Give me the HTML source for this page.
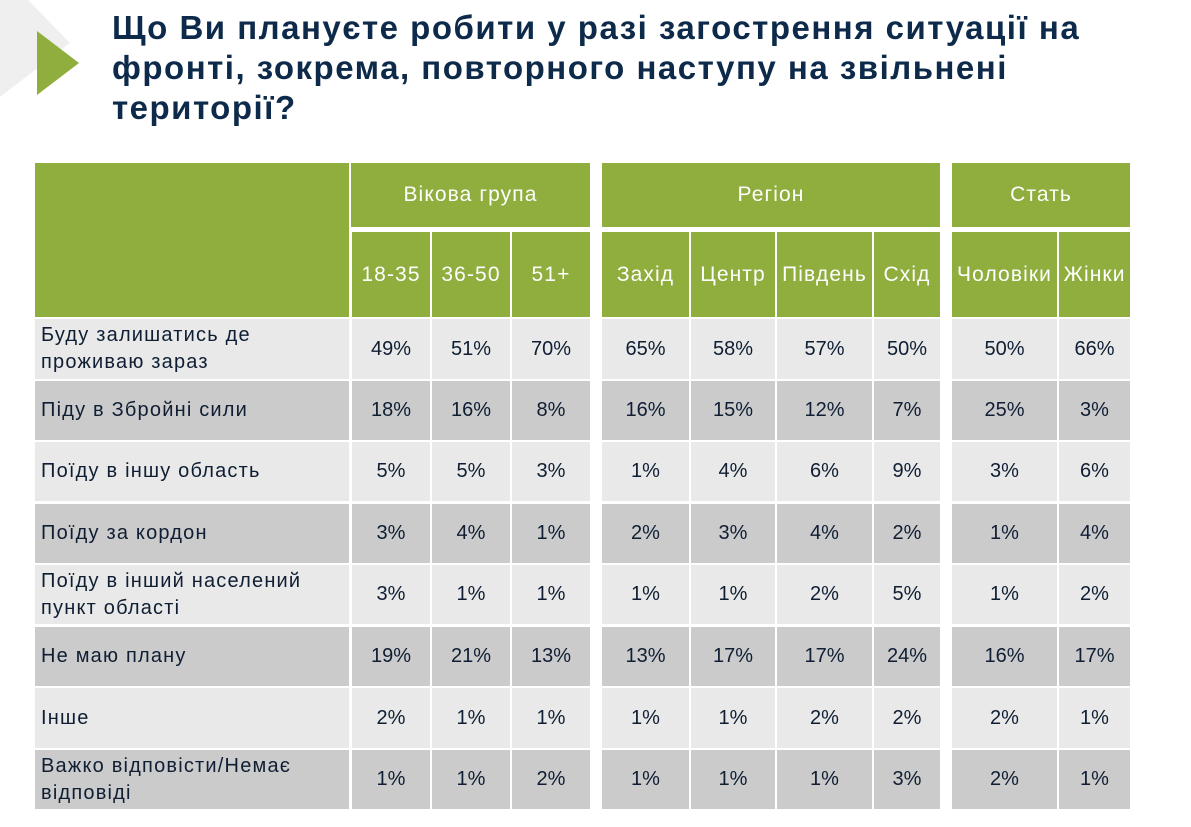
<!DOCTYPE html>
<html><head><meta charset="utf-8">
<style>
body{margin:0;width:1191px;height:827px;background:#fff;position:relative;overflow:hidden;font-family:"Liberation Sans","DejaVu Sans",sans-serif;}
.c{position:absolute;box-sizing:border-box;display:flex;align-items:center;justify-content:center;}
.g{background:#8fae3e;color:#fff;font-size:21px;letter-spacing:1.1px;}
.v{font-size:20px;color:#0f1e33;}
.lbl{justify-content:flex-start;padding-left:6px;font-size:20px;color:#0f1e33;line-height:27px;letter-spacing:1.2px}
#title{position:absolute;left:112px;top:8px;font-size:33px;font-weight:bold;color:#0d2a4a;line-height:40px;letter-spacing:1.5px}
</style></head><body>
<svg width="120" height="120" style="position:absolute;left:0;top:0">
<polygon points="0,0 28,0 70,43 0,97" fill="#efefef"/>
<polygon points="37,31 79,63 37,95" fill="#8fae3e"/>
</svg>
<div id="title">Що Ви плануєте робити у разі загострення ситуації на<br>фронті, зокрема, повторного наступу на звільнені<br>території?</div>
<div id="tbl"></div>
<script>
const groups=["Вікова група","Регіон","Стать"];
const columns=["18-35","36-50","51+","Захід","Центр","Південь","Схід","Чоловіки","Жінки"];
const rowLabels=["Буду залишатись де<br>проживаю зараз","Піду в Збройні сили","Поїду в іншу область","Поїду за кордон","Поїду в інший населений<br>пункт області","Не маю плану","Інше","Важко відповісти/Немає<br>відповіді"];
const r1=[49,51,70,65,58,57,50,50,66];
const r2=[18,16,8,16,15,12,7,25,3];
const r3=[5,5,3,1,4,6,9,3,6];
const r4=[3,4,1,2,3,4,2,1,4];
const r5=[3,1,1,1,1,2,5,1,2];
const r6=[19,21,13,13,17,17,24,16,17];
const r7=[2,1,1,1,1,2,2,2,1];
const r8=[1,1,2,1,1,1,3,2,1];
const values=[r1,r2,r3,r4,r5,r6,r7,r8];
const colX=[[352,430],[432,510],[512,590],[602,689],[691,775],[777,872],[874,940],[952,1057],[1059,1130]];
const groupX=[[351,590],[602,940],[952,1130]];
const rowY=[[319,379],[381,440],[442,501],[504,563],[565,624],[627,686],[688,748],[750,809]];
const t=document.getElementById('tbl');
function cell(cls,x0,x1,y0,y1,html){const d=document.createElement('div');d.className='c '+cls;d.style.left=x0+'px';d.style.top=y0+'px';d.style.width=(x1-x0)+'px';d.style.height=(y1-y0)+'px';d.innerHTML=html;t.appendChild(d);return d;}
let e=cell('g',35,349,163,317,'');


groups.forEach((g,i)=>{const d=cell('g',groupX[i][0],groupX[i][1],163,227,g);

});
columns.forEach((c,i)=>{const d=cell('g',colX[i][0],colX[i][1],232,317,c);

});
rowLabels.forEach((l,r)=>{const bg=r%2?'#cbcbcc':'#e8e9e8';const[y0,y1]=rowY[r];
const d=cell('lbl',35,349,y0,y1,l);d.style.background=bg;


values[r].forEach((v,i)=>{const c=cell('v',colX[i][0],colX[i][1],y0,y1,v+'%');c.style.background=bg;

});});
</script>
</body></html>
